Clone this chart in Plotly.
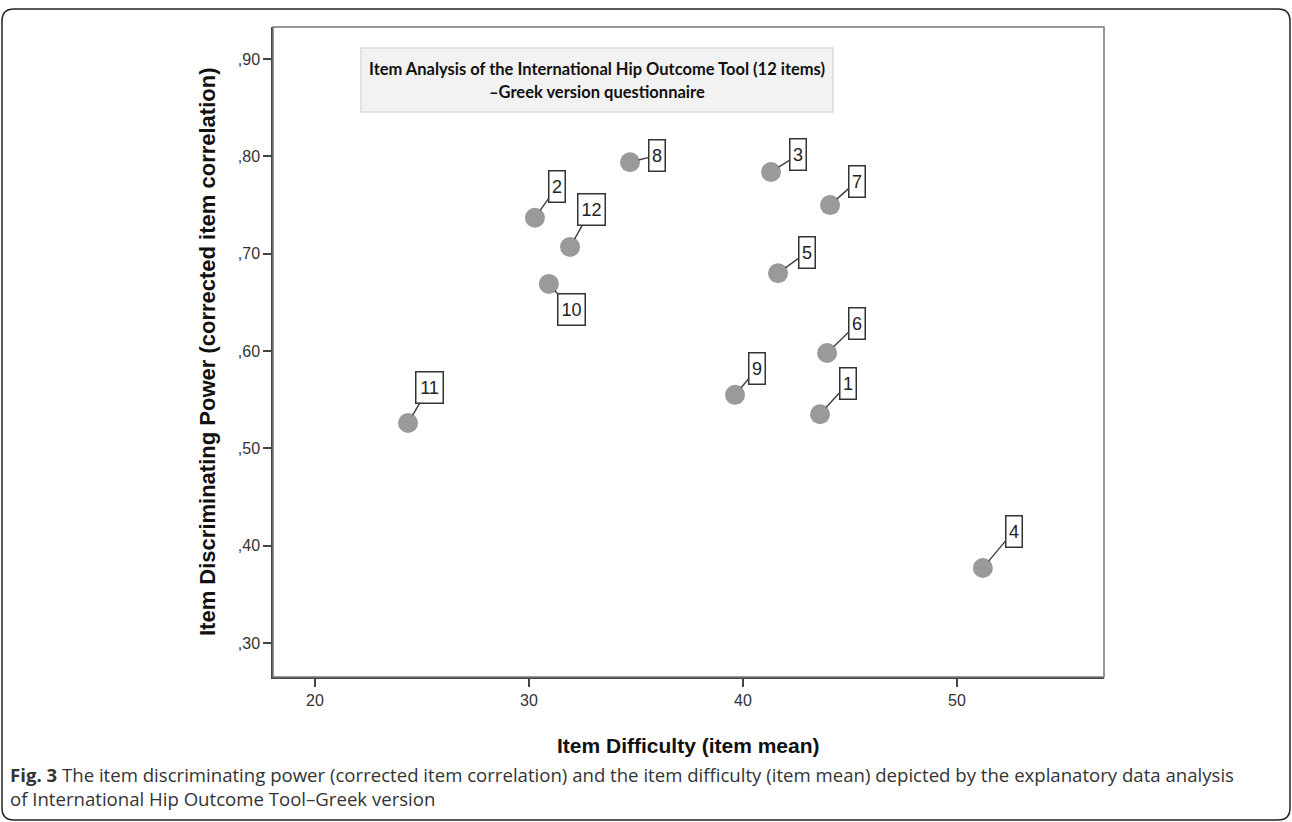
import plotly.graph_objects as go

items = ["1", "2", "3", "4", "5", "6", "7", "8", "9", "10", "11", "12"]
difficulty = [43.6, 30.28, 41.31, 51.21, 41.64, 43.93, 44.07, 34.72, 39.63, 30.93, 24.35, 31.92]
discrimination = [0.535, 0.737, 0.784, 0.377, 0.680, 0.598, 0.750, 0.794, 0.555, 0.669, 0.526, 0.707]
# label offsets (pixels) relative to each point
label_dx = [28, 22, 27, 31, 29, 30, 27, 27, 22, 23, 21, 21]
label_dy = [-31, -31, -17, -37, -21, -29, -24, -7, -26, 26, -36, -37]

x_ticks = [20, 30, 40, 50]
y_ticks = [0.30, 0.40, 0.50, 0.60, 0.70, 0.80, 0.90]
y_ticktext = [",30", ",40", ",50", ",60", ",70", ",80", ",90"]

title_lines = ["Item Analysis of the International Hip Outcome Tool (12 items)",
               "–Greek version questionnaire"]
x_title = "Item Difficulty (item mean)"
y_title = "Item Discriminating Power (corrected item correlation)"
caption = ("<b>Fig. 3</b> The item discriminating power (corrected item correlation) and the item difficulty (item mean) depicted by the explanatory data analysis"
           "<br>of International Hip Outcome Tool–Greek version")

W, H = 1292, 822
L, R, T, B = 273, 1104, 27, 677  # plot area in pixels


def px(x):
    return (x - L) / (R - L)


def py(y):
    return (B - y) / (B - T)


fig = go.Figure()
fig.add_trace(go.Scatter(
    x=difficulty, y=discrimination, mode="markers",
    marker=dict(size=20, color="#9a9a9a", line=dict(width=0)),
    hoverinfo="skip", showlegend=False,
))

annotations = []
for it, xv, yv, dx, dy in zip(items, difficulty, discrimination, label_dx, label_dy):
    annotations.append(dict(
        x=xv, y=yv, xref="x", yref="y", text=it, showarrow=True,
        ax=dx, ay=dy, arrowhead=0, arrowwidth=1.5, arrowcolor="#444444",
        standoff=9, font=dict(family="Liberation Sans", size=18, color="#222222"),
        bordercolor="#333333", borderwidth=1.5, borderpad=2, bgcolor="white",
        width=11 if len(it) == 1 else 22, height=26,
    ))

# title box text
for line, yy in zip(title_lines, [69, 92]):
    annotations.append(dict(
        x=px(597), y=py(yy), xref="paper", yref="paper", text="<b>" + line + "</b>",
        showarrow=False, align="center", xanchor="center", yanchor="middle",
        font=dict(family="Lato", size=16.5, color="#111111"),
    ))
# axis titles
annotations.append(dict(
    x=px(688), y=py(746), xref="paper", yref="paper", text="<b>" + x_title + "</b>",
    showarrow=False, xanchor="center", yanchor="middle",
    font=dict(family="Liberation Sans", size=21, color="#111111"),
))
annotations.append(dict(
    x=px(207), y=py(352), xref="paper", yref="paper", text="<b>" + y_title + "</b>",
    showarrow=False, xanchor="center", yanchor="middle", textangle=-90,
    font=dict(family="Liberation Sans", size=22, color="#111111"),
))
# caption
annotations.append(dict(
    x=px(8), y=py(786), xref="paper", yref="paper", text=caption,
    showarrow=False, xanchor="left", yanchor="middle", align="left",
    font=dict(family="Open Sans", size=18.6, color="#333333"),
))

# rounded outer border
x0, x1, y0, y1, r = 2, 1290, 9, 820, 12
path = (f"M {px(x0 + r)},{py(y0)} L {px(x1 - r)},{py(y0)} "
        f"Q {px(x1)},{py(y0)} {px(x1)},{py(y0 + r)} "
        f"L {px(x1)},{py(y1 - r)} Q {px(x1)},{py(y1)} {px(x1 - r)},{py(y1)} "
        f"L {px(x0 + r)},{py(y1)} Q {px(x0)},{py(y1)} {px(x0)},{py(y1 - r)} "
        f"L {px(x0)},{py(y0 + r)} Q {px(x0)},{py(y0)} {px(x0 + r)},{py(y0)} Z")

shapes = [
    dict(type="path", xref="paper", yref="paper", path=path,
         line=dict(color="#222222", width=1.5), layer="below"),
    # plot frame (top/right)
    dict(type="rect", xref="paper", yref="paper", x0=0, y0=0, x1=1, y1=1,
         line=dict(color="#777777", width=1.5), layer="above"),
    # title box
    dict(type="rect", xref="paper", yref="paper", x0=px(361), x1=px(833), y0=py(48), y1=py(112),
         fillcolor="#f2f2f2", line=dict(color="#dadada", width=1.5), layer="below"),
]

fig.update_layout(
    width=W, height=H,
    margin=dict(l=L, r=W - R, t=T, b=H - B, pad=0),
    paper_bgcolor="white", plot_bgcolor="white",
    annotations=annotations, shapes=shapes,
    xaxis=dict(range=[18.04, 56.87], tickvals=x_ticks, ticks="outside", ticklen=8,
               tickwidth=1.5, tickcolor="#444444", showgrid=False, zeroline=False,
               showline=True, linecolor="#444444", linewidth=1.5,
               tickfont=dict(family="Liberation Sans", size=16, color="#333333")),
    yaxis=dict(range=[0.265, 0.933], tickvals=y_ticks, ticktext=y_ticktext,
               ticks="outside", ticklen=8, tickwidth=1.5, tickcolor="#444444",
               showgrid=False, zeroline=False, showline=True, linecolor="#444444",
               linewidth=1.5,
               tickfont=dict(family="Liberation Sans", size=16, color="#333333")),
)

fig.write_html("out.html", config={"displayModeBar": False},
               post_script="document.body.style.margin='0';document.body.style.padding='0';")
